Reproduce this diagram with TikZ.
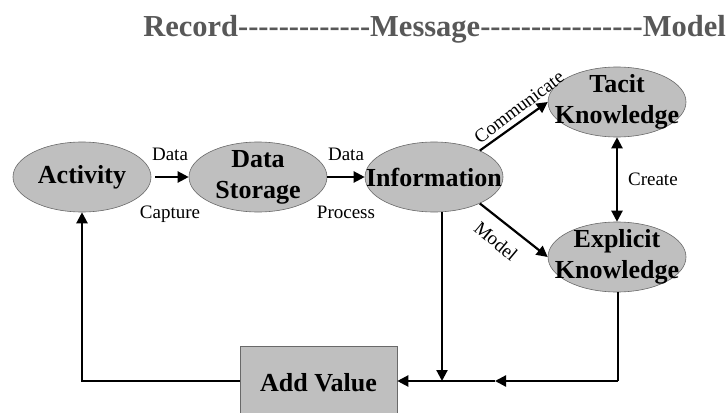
\documentclass[tikz,border=0pt]{standalone}
\usepackage{fontspec}
\setmainfont{Liberation Serif}
\newfontfamily\titlefont{Liberation Serif}[Ligatures=TeXOff]
\usetikzlibrary{shapes.geometric,arrows.meta}
\definecolor{nodegray}{RGB}{191,191,191}
\definecolor{rimgray}{RGB}{105,105,105}
\definecolor{titlegray}{RGB}{88,88,88}
\begin{document}
\begin{tikzpicture}
[x=1pt,y=-1pt%
,>={Triangle[length=11pt,width=11pt]}%
,stage/.style={ellipse,%
	fill=nodegray,%
	draw=rimgray,%
	line width=0.6pt,%
	minimum width=138pt,%
	minimum height=70pt,%
	inner sep=0pt,%
	label={[stagefont]center:#1}}%
,stagefont/.style={align=center,%
	inner sep=0pt,%
	font=\fontsize{26}{31}\selectfont\bfseries}%
,flow/.style={->,line width=2.2pt}%
,line/.style={line width=2.2pt}%
,tag/.style={font=\fontsize{19}{21}\selectfont,inner sep=2pt}]
\path[use as bounding box,clip] (0,0) rectangle (727,412);
% title
\node[anchor=base east,text=titlegray,inner sep=0pt,font=\titlefont\fontsize{30.5}{33}\selectfont\bfseries] (title) at (726,37)
{Record-------------Message----------------Model};
% nodes
\node[stage={Activity}] (act) at (82,177) {};
\node[stage={Data\\Storage}] (store) at (258,177) {};
\node[stage={Information}] (info) at (434,177) {};
\node[stage={Tacit\\Knowledge}] (tacit) at (617,102) {};
\node[stage={Explicit\\Knowledge}] (expl) at (617,257) {};
\node[rectangle,fill=nodegray,draw=rimgray,line width=0.6pt,minimum width=157pt,minimum height=74pt,%
	font=\fontsize{26}{31}\selectfont\bfseries] (value) at (318.5,383) {Add Value};
\coordinate (jinfo) at (442,381);
\coordinate (jexpl) at (618,381);
\coordinate (jmid) at (495,381);
\coordinate (jact) at (82,381);
% connectors
\draw[flow,shorten <=4pt] (act) -- node[tag,above=13pt] {Data} node[tag,below=26pt] {Capture} (store);
\draw[flow] (store) -- node[tag,above=13pt] {Data} node[tag,below=26pt] {Process} (info);
\draw[flow] (info.30) -- (tacit.west);
\draw[flow] (info.-30) -- (expl.west);
\node[tag,rotate=37] (comm) at (519,107) {Communicate};
\node[tag,rotate=-40] (modl) at (496,241) {Model};
\draw[flow,<->] (tacit) -- node[tag,right=8pt] {Create} (expl);
\draw[flow] (info.south -| jinfo) -- (jinfo);
\draw[line] (expl.south -| jexpl) -- (jexpl);
\draw[flow] (jexpl) -- (jmid);
\draw[flow] (jmid) -- (jmid -| value.east);
\draw[flow] (jact -| value.west) -- (jact) -- (act.south);
\end{tikzpicture}
\end{document}
